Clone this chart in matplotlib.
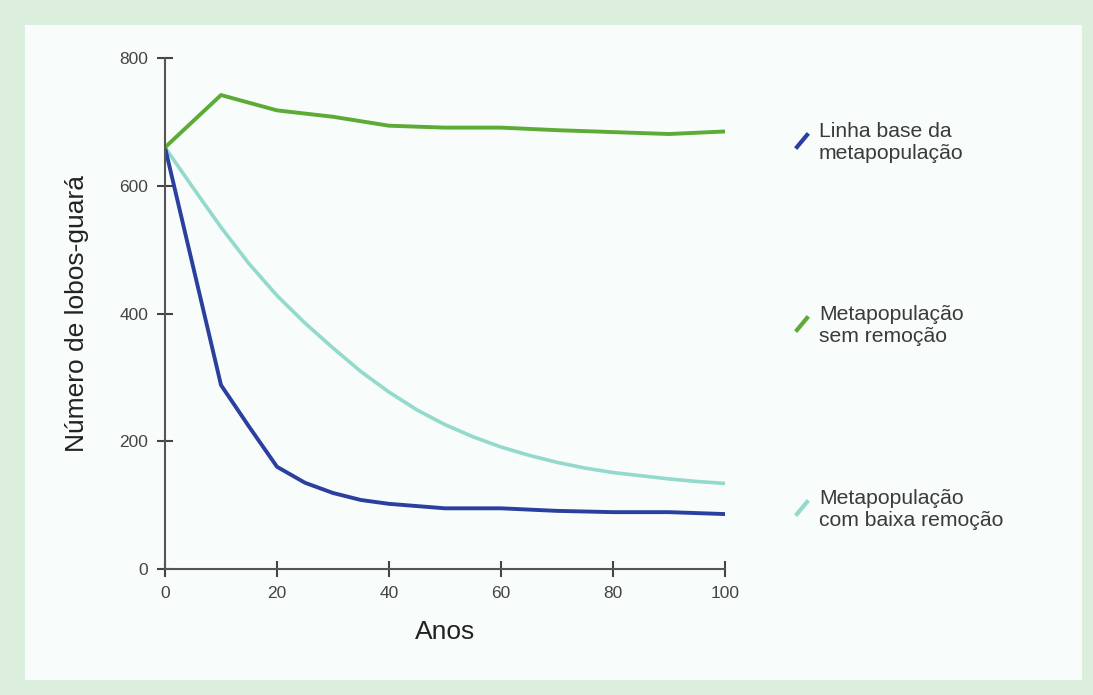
import numpy as np
import matplotlib.pyplot as plt
from matplotlib.patches import Rectangle
from matplotlib.lines import Line2D

plt.rcParams['font.family'] = ['Liberation Sans', 'DejaVu Sans']

# valores
anos_base = [0, 10, 15, 20, 25, 30, 35, 40, 50, 60, 70, 80, 90, 100]
linha_base = [660, 288, 223, 160, 135, 119, 108, 102, 95, 95, 91, 89, 89, 86]

anos_sem = [0, 10, 20, 30, 40, 50, 60, 70, 80, 90, 100]
sem_remocao = [660, 742, 718, 708, 694, 691, 691, 687, 684, 681, 685]

anos_baixa = [0, 5, 10, 15, 20, 25, 30, 35, 40, 45, 50, 55, 60, 65, 70, 75, 80, 85, 90, 95, 100]
baixa_remocao = [660, 597, 535, 478, 428, 385, 346, 309, 277, 249, 226, 207, 191, 178, 167, 158, 151, 146, 141, 137, 134]

legenda = ["Linha base da\nmetapopulação", "Metapopulação\nsem remoção", "Metapopulação\ncom baixa remoção"]
cores = ["#2b3f9e", "#5cab37", "#93d9cc"]

fig = plt.figure(figsize=(10.93, 6.95), dpi=100)
fig.patch.set_facecolor("#dcefdf")
fig.add_artist(Rectangle((25/1093, 1-680/695), 1057/1093, 655/695, transform=fig.transFigure,
                         facecolor="#f8fcfb", edgecolor="none", zorder=-5))

ax = fig.add_axes([165/1093, 1-569/695, 560/1093, 511/695])
ax.set_facecolor("none")
ax.set_zorder(2)
ax.plot(anos_baixa, baixa_remocao, color=cores[2], lw=2.6, solid_joinstyle="round")
ax.plot(anos_base, linha_base, color=cores[0], lw=2.8, solid_joinstyle="round")
ax.plot(anos_sem, sem_remocao, color=cores[1], lw=2.8, solid_joinstyle="round")

ax.set_xlim(0, 100)
ax.set_ylim(0, 800)
ax.set_xticks([0, 20, 40, 60, 80, 100])
ax.set_yticks([0, 200, 400, 600, 800])
for s in ["top", "right"]:
    ax.spines[s].set_visible(False)
for s in ["left", "bottom"]:
    ax.spines[s].set_color("#555555")
    ax.spines[s].set_linewidth(1.5)
ax.tick_params(direction="inout", length=12, width=1.5, color="#444444",
               labelsize=12.5, labelcolor="#444444", pad=6)
ax.set_xlabel("Anos", fontsize=19, color="#222222", labelpad=14)
ax.set_ylabel("Número de lobos-guará", fontsize=19, color="#222222", labelpad=22)

# legenda manual
pos_y = [122, 305, 489]
for txt, cor, y in zip(legenda, cores, pos_y):
    fig.add_artist(Line2D([797/1093, 807/1093], [1-(y+25)/695, 1-(y+13)/695], color=cor, lw=3))
    fig.text(819/1093, 1-y/695, txt, fontsize=15.2, color="#3a3a3a", va="top", linespacing=1.2)

fig.savefig("out.png", dpi=100, facecolor=fig.get_facecolor())
